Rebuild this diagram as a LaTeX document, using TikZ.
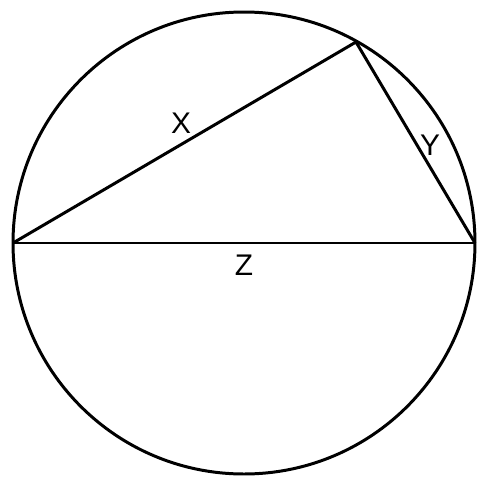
\documentclass[tikz,border=0pt]{standalone}
\usepackage{fontspec}
\setmainfont{Liberation Sans}
\usetikzlibrary{positioning}
\tikzset{
  edge/.style={
    draw,
    line width=1.7pt,
    line join=round
  },
  side/.style={
    font=\fontsize{17}{20}\selectfont,
    inner sep=0pt
  }
}

\begin{document}
\begin{tikzpicture}[x=0.02cm, y=-0.02cm]
    \useasboundingbox (0,0) rectangle (480,481);
    \coordinate (centre) at (244,243);
    \coordinate (left) at (13,243);
    \coordinate (right) at (475,243);
    \coordinate (top) at (356,42);
    
    \draw[edge] (centre) circle [radius=231*0.02cm];
    \draw[edge] (left) -- (right);
    \draw[edge] (left) -- (top) -- (right);
    
    \node[side] (x) at (181,123) {X};
    \node[side] (y) at (430,145) {Y};
    \node[side] (z) at (244,265) {Z};
\end{tikzpicture}
\end{document}
